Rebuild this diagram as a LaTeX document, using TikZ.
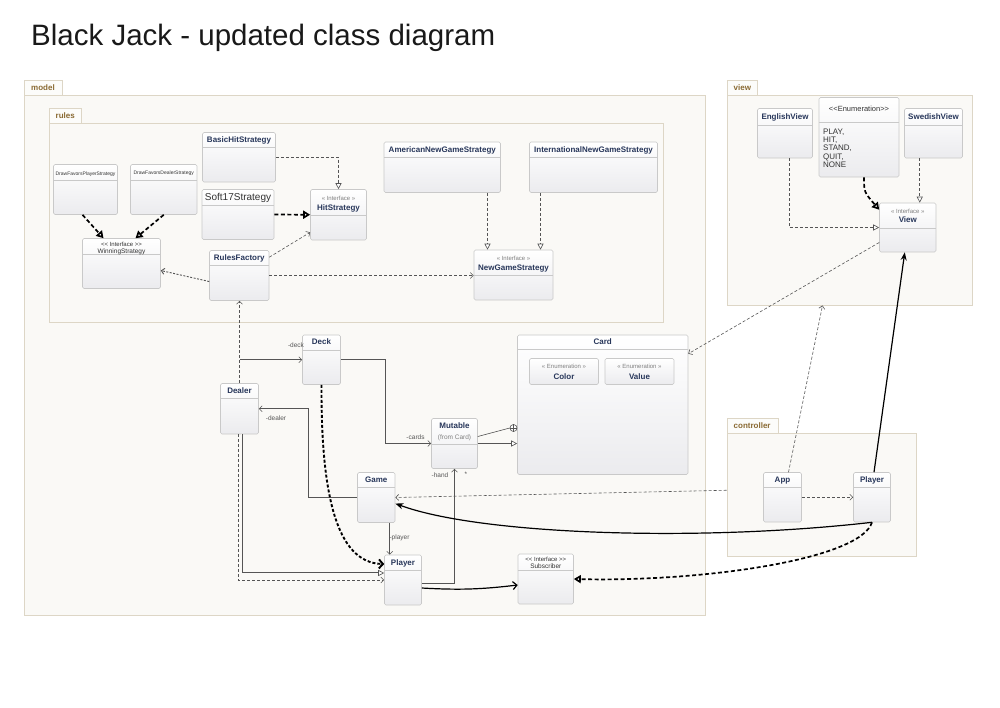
\documentclass[tikz,border=0pt]{standalone}
\usepackage{fontspec}
\setmainfont{Liberation Sans}
\usetikzlibrary{arrows.meta,fit}

\definecolor{clsname}{HTML}{27365A}
\definecolor{clsline}{HTML}{C9C9C9}
\definecolor{clsfill}{HTML}{EBEBEE}
\definecolor{pkgline}{HTML}{DDD6C6}
\definecolor{pkgfill}{HTML}{FAF9F6}
\definecolor{pkgtext}{HTML}{8A6A33}
\definecolor{wire}{HTML}{555555}
\definecolor{darktext}{HTML}{333333}

\tikzset{
  pkg/.style={draw=pkgline, fill=pkgfill, line width=0.8pt, inner sep=0pt},
  pkgtab/.style={draw=pkgline, fill=pkgfill!50!white, line width=0.8pt},
  pkglabel/.style={text=pkgtext, font=\fontsize{8}{9}\selectfont\bfseries, anchor=mid west, inner sep=0pt},
  cls/.style={draw=clsline, rounded corners=1.5pt, top color=white, bottom color=clsfill, inner sep=0pt, line width=0.6pt},
  clsrule/.style={draw=clsline, line width=0.6pt},
  clsname/.style={text=clsname, font=\fontsize{8}{9}\selectfont\bfseries, inner sep=0pt, anchor=mid},
  stereo/.style={text=gray, font=\fontsize{6}{7}\selectfont, inner sep=0pt, anchor=mid},
  plain/.style={text=darktext, inner sep=0pt, anchor=mid},
  role/.style={text=wire, font=\fontsize{6.5}{7}\selectfont, inner sep=0pt, anchor=mid},
  dep/.style={draw=wire, line width=0.6pt, dash pattern=on 3pt off 2pt, -{Straight Barb[length=3pt,width=6pt]}},
  real/.style={draw=wire, line width=0.6pt, dash pattern=on 3pt off 2pt, -{Triangle[open,length=6pt,width=6pt,fill=white]}},
  assoc/.style={draw=wire, line width=0.6pt, -{Straight Barb[length=3pt,width=6pt]}},
  gen/.style={draw=wire, line width=0.6pt, -{Triangle[open,length=6pt,width=6pt,fill=white]}},
  heavydash/.style={line width=1.7pt, dash pattern=on 4pt off 2.5pt, -{Triangle[open,length=7pt,width=8pt,fill=white]}},
  heavy/.style={line width=1.2pt, -{Stealth[length=8pt,width=6pt]}},
}

\newcommand\umlpkg[7]{%
  \node[pkg, fit={(#2,#3) (#4,#5)}] (#1) {};
  \draw[pkgtab] (#2,#3-15) rectangle (#6,#3);
  \node[pkglabel] (#1-label) at (#2+6.5,#3-7.5) {#7};
}
\newcommand\umlclass[6]{%
  \node[cls, fit={(#2,#3) (#4,#5)}] (#1) {};
  \draw[clsrule] (#2,#6) -- (#4,#6);
}

\begin{document}
\begin{tikzpicture}[x=1pt, y=-1pt]
\fill[white] (0,0) rectangle (1000,707);
\useasboundingbox (0,0) rectangle (1000,707);
\node[anchor=base west, inner sep=0pt, text=black!90, font=\fontsize{29.5}{34}\selectfont] (title) at (31,45) {Black Jack - updated class diagram};

\umlpkg{model}{24.5}{95.5}{705.5}{615}{62.5}{model}
\umlpkg{rules}{49}{123.5}{663.5}{322}{81}{rules}
\umlpkg{viewpkg}{727}{95.5}{972}{305}{757}{view}
\umlpkg{ctrl}{727}{433.5}{916}{556.5}{778}{controller}

\umlclass{basic}{202.5}{132.5}{275.5}{182}{147.5}
\node[clsname] (basic-t) at (239,140) {BasicHitStrategy};
\umlclass{dfp}{53.5}{164.5}{117.5}{214.5}{180.5}
\node[plain, font=\fontsize{5}{6}\selectfont] (dfp-t) at (85.5,172.5) {DrawFavorsPlayerStrategy};
\umlclass{dfd}{130.5}{164.5}{197}{214.5}{180.5}
\node[plain, font=\fontsize{5}{6}\selectfont] (dfd-t) at (163.7,171.5) {DrawFavorsDealerStrategy};
\umlclass{soft}{202}{189.5}{274}{239.5}{205.5}
\node[plain, font=\fontsize{10}{12}\selectfont] (soft-t) at (238,197.5) {Soft17Strategy};
\umlclass{hit}{310.5}{189.5}{366.5}{240}{215}
\node[stereo] (hit-s) at (338.5,197.5) {« Interface »};
\node[clsname] (hit-t) at (338.5,207.5) {HitStrategy};
\umlclass{win}{82.5}{238.5}{160.5}{288.5}{254.5}
\node[plain, font=\fontsize{6}{7}\selectfont] (win-s) at (121.5,243.5) {<{}< Interface >{}>};
\node[plain, font=\fontsize{6.5}{7}\selectfont] (win-t) at (121.5,250.7) {WinningStrategy};
\umlclass{rf}{209.5}{250.5}{269}{300.5}{265.5}
\node[clsname] (rf-t) at (239.3,258) {RulesFactory};
\umlclass{amer}{384}{142}{500.5}{192.5}{157}
\node[clsname] (amer-t) at (442.3,149.5) {AmericanNewGameStrategy};
\umlclass{intl}{529.5}{142}{657.5}{192.5}{157}
\node[clsname] (intl-t) at (593.5,149.5) {InternationalNewGameStrategy};
\umlclass{ngs}{474}{250}{553}{300}{275}
\node[stereo] (ngs-s) at (513.5,258) {« Interface »};
\node[clsname] (ngs-t) at (513.5,267.5) {NewGameStrategy};

\umlclass{ev}{757.5}{108.5}{812.5}{158}{125}
\node[clsname] (ev-t) at (785,116.5) {EnglishView};
\umlclass{enum}{819}{97.5}{899}{177}{122.5}
\node[plain, font=\fontsize{7.5}{8}\selectfont] (enum-s) at (859,108.5) {<{}<Enumeration>{}>};
\node[plain, anchor=north west, align=left, font=\fontsize{8}{8.3}\selectfont] (enum-v) at (823,128.5) {PLAY,\\HIT,\\STAND,\\QUIT,\\NONE};
\umlclass{sv}{904.5}{108.5}{962.5}{158}{125}
\node[clsname] (sv-t) at (933.5,116.5) {SwedishView};
\umlclass{view}{879.5}{203}{936}{252}{228}
\node[stereo] (view-s) at (907.8,211) {« Interface »};
\node[clsname] (view-t) at (907.8,220) {View};

\umlclass{deck}{302.5}{335}{340.5}{384.5}{350}
\node[clsname] (deck-t) at (321.5,342) {Deck};
\umlclass{dealer}{220.5}{383.5}{258.5}{434}{398.5}
\node[clsname] (dealer-t) at (239.5,391) {Dealer};
\umlclass{mut}{431.5}{418.5}{477.5}{468.5}{444.5}
\node[clsname] (mut-t) at (454.5,425.5) {Mutable};
\node[stereo, font=\fontsize{6.5}{7}\selectfont] (mut-s) at (454.5,436.7) {(from Card)};
\umlclass{card}{517.5}{335}{688}{474.5}{349.5}
\node[clsname] (card-t) at (602.7,342) {Card};
\node[cls, fit={(529.5,358.5) (598.5,384.5)}] (color) {};
\node[stereo] (color-s) at (564,366) {« Enumeration »};
\node[clsname] (color-t) at (564,376.5) {Color};
\node[cls, fit={(605,358.5) (674,384.5)}] (value) {};
\node[stereo] (value-s) at (639.5,366) {« Enumeration »};
\node[clsname] (value-t) at (639.5,376.5) {Value};
\umlclass{game}{357.5}{472.5}{395}{522.5}{487.7}
\node[clsname] (game-t) at (376.3,480) {Game};
\umlclass{mplayer}{384.5}{555}{421.5}{605}{570}
\node[clsname] (mplayer-t) at (403,562.5) {Player};
\umlclass{sub}{518}{554}{573.5}{604}{570}
\node[plain, font=\fontsize{6}{7}\selectfont] (sub-s) at (545.8,558.7) {<{}< Interface >{}>};
\node[plain, font=\fontsize{6.5}{7}\selectfont] (sub-t) at (545.8,566) {Subscriber};

\umlclass{app}{763.5}{472.5}{801.5}{522}{487.5}
\node[clsname] (app-t) at (782.5,480) {App};
\umlclass{cplayer}{853.5}{472.5}{890.5}{522}{487.5}
\node[clsname] (cplayer-t) at (872,480) {Player};

\draw[real] (basic.east) -| (hit.north);
\draw[heavydash] (soft.east) -- (hit.west);
\draw[dep] ([yshift=-7pt]rf.north east) -- ([yshift=8pt]hit.south west);
\draw[heavydash] ([xshift=-3pt]dfp.south) -- ([xshift=-18pt]win.north);
\draw[heavydash] (dfd.south) -- ([xshift=14pt]win.north);
\draw[dep, line width=0.9pt, dash pattern=on 2pt off 1.5pt] ([yshift=-6pt]rf.west) -- ([yshift=-7pt]win.east);
\draw[dep] (rf.east) -- (rf.east -| ngs.west);
\draw[real] ([xshift=-26pt]ngs.north |- amer.south) -- ([xshift=-26pt]ngs.north);
\draw[real] ([xshift=27pt]ngs.north |- intl.south) -- ([xshift=27pt]ngs.north);

\draw[dep] (dealer.north) -- (dealer.north |- rf.south);
\draw[assoc] (dealer.north |- deck.west) -- (deck.west);
\node[role] (deck-r) at (296,345) {-deck};
\draw[assoc] (game.west) -| ([xshift=49pt]dealer.east) -- (dealer.east);
\node[role] (dealer-r) at (276,418) {-dealer};
\draw[assoc] (deck.east) -| ([xshift=-46pt]mut.west) -- (mut.west);
\node[role] (cards-r) at (415.5,437) {-cards};
\node[circle, draw=wire, line width=0.6pt, fill=white, inner sep=0pt, minimum size=7pt] (nest) at (513.5,428) {};
\draw[wire, line width=0.6pt] (nest.north) -- (nest.south) (nest.west) -- (nest.east);
\draw[wire, line width=0.6pt] ([yshift=7pt]mut.east) -- (nest.west);
\draw[gen] (mut.east) -- (mut.east -| card.west);
\draw[assoc] ([yshift=-3pt]mplayer.east) -| (mut.south);
\node[role] (hand-r) at (440,475) {-hand};
\node[role] (many-r) at (466,474) {*};
\draw[assoc] ([xshift=13.5pt]game.south) -- ([xshift=13.5pt]game.south |- mplayer.north);
\node[role] (player-r) at (399.5,537) {-player};
\draw[line width=1.9pt, dash pattern=on 3pt off 2pt, -{Straight Barb[length=4pt,width=9pt]}] (deck.south) .. controls (321,490) and (335,563) .. ([yshift=16pt]mplayer.west);
\draw[gen, double=pkgfill, double distance=0.8pt] ([xshift=2pt]dealer.south) |- ([yshift=7pt]mplayer.west);
\draw[dep] ([xshift=-1.5pt]dealer.south) |- (mplayer.west);

\draw[dep] ([yshift=7pt]app.west -| ctrl.west) -- (game.east);
\draw[dep] (app.east) -- (cplayer.west);
\draw[dep] ([xshift=6pt]app.north) -- ([xshift=-27pt]viewpkg.south);
\draw[dep] ([yshift=-15pt]view.west) -- ([yshift=-19pt]card.north east);
\draw[heavy] ([xshift=2pt]cplayer.north) -- ([xshift=-3pt]view.south);
\draw[heavy] (cplayer.south) .. controls (700,542) and (480,535) .. ([yshift=-6pt]game.east);
\draw[heavydash] (cplayer.south) .. controls (860,560) and (700,582) .. (sub.east);
\draw[heavy, -{Straight Barb[length=4pt,width=8pt]}] ([yshift=-8pt]mplayer.east) to[bend right=5] ([yshift=-6pt]sub.west);

\draw[real] ([xshift=4pt]ev.south) |- (view.west);
\draw[real] ([xshift=12pt]view.north |- sv.south) -- ([xshift=12pt]view.north);
\draw[heavydash] ([xshift=5pt]enum.south) .. controls (864,192) .. ([yshift=-7pt]view.north west);
\end{tikzpicture}
\end{document}
